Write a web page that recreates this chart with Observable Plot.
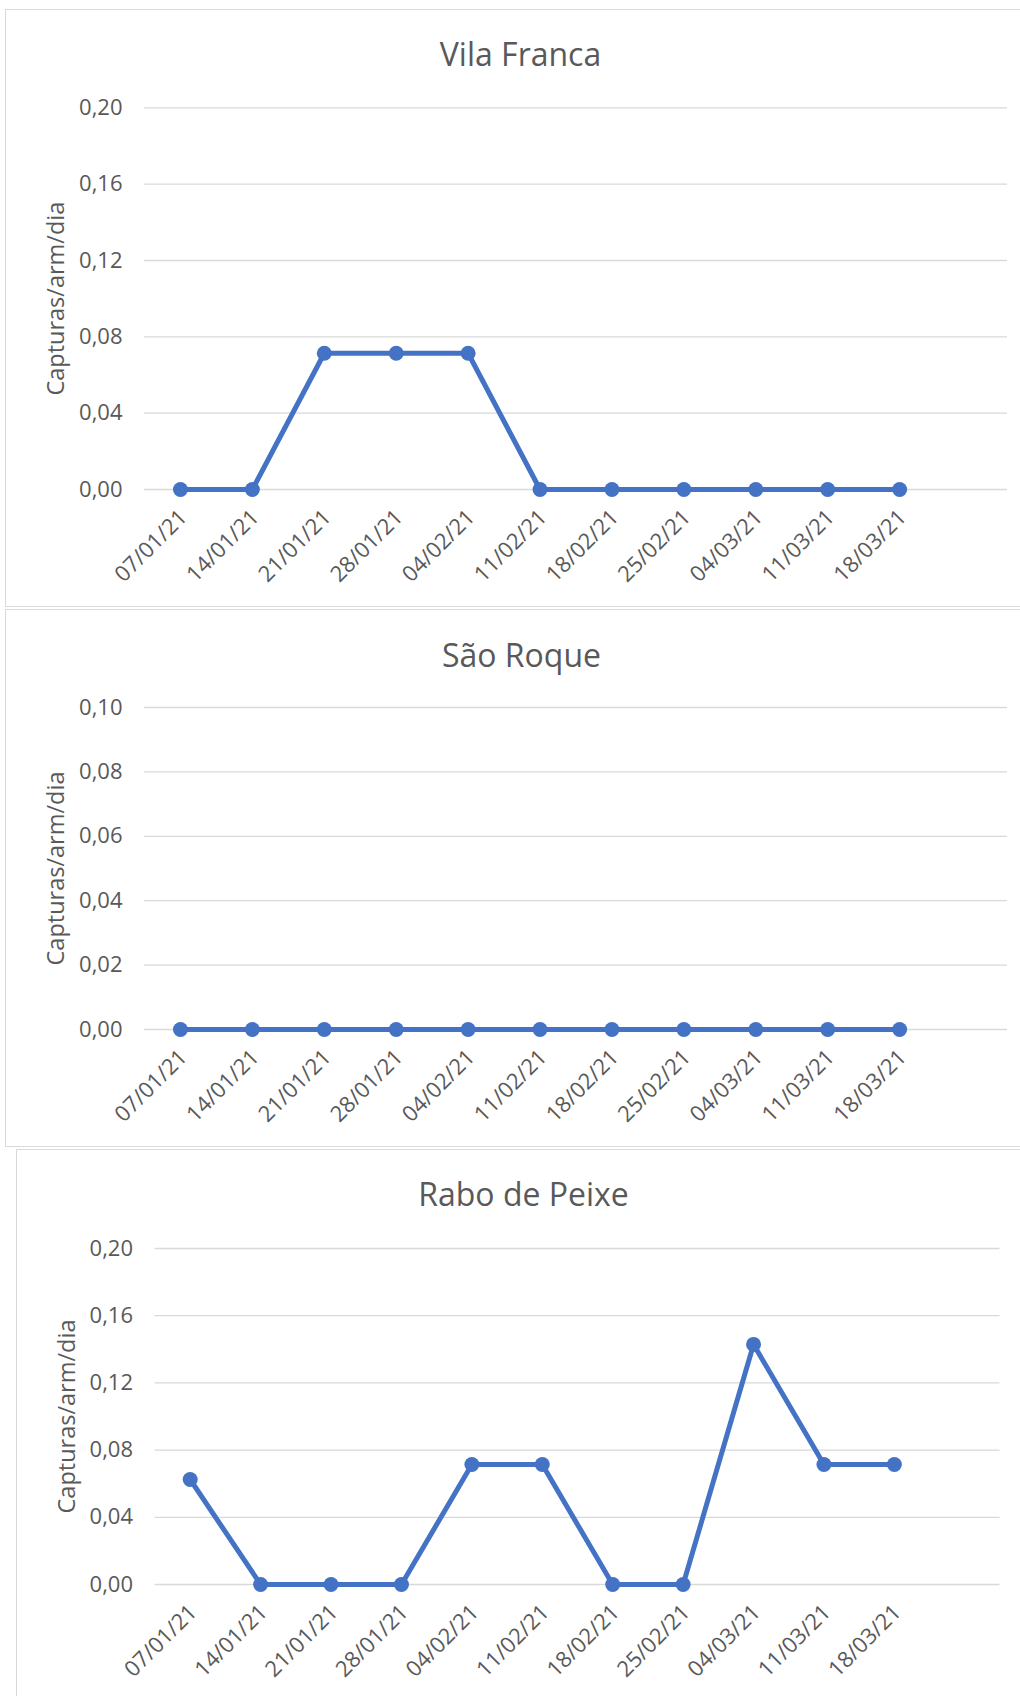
<!DOCTYPE html>
<html>
<head>
<meta charset="utf-8">
<script src="https://cdn.jsdelivr.net/npm/d3@7"></script>
<script src="https://cdn.jsdelivr.net/npm/@observablehq/plot@0.6"></script>
<style>
  html, body { margin: 0; padding: 0; background: #fff; }
  body { width: 1020px; height: 1696px; overflow: hidden; position: relative; font-family: "Open Sans", sans-serif; }
  .panel { position: absolute; }
  .panel svg { position: absolute; left: 0; top: 0; }
  .border { position: absolute; left: 0; top: 0; right: 0; bottom: 0; border: 1.5px solid #d9d9d9; box-sizing: border-box; pointer-events: none; }
</style>
</head>
<body>
<script>
// ---- data ----
const dates = ["07/01/21","14/01/21","21/01/21","28/01/21","04/02/21","11/02/21","18/02/21","25/02/21","04/03/21","11/03/21","18/03/21"];
const vilaFranca = [0, 0, 0.0714, 0.0714, 0.0714, 0, 0, 0, 0, 0, 0];
const saoRoque   = [0, 0, 0, 0, 0, 0, 0, 0, 0, 0, 0];
const raboDePeixe = [0.0625, 0, 0, 0, 0.0714, 0.0714, 0, 0, 0.1429, 0.0714, 0.0714];
const titles = ["Vila Franca", "São Roque", "Rabo de Peixe"];
const ticksA = [0, 0.04, 0.08, 0.12, 0.16, 0.20];
const ticksB = [0, 0.02, 0.04, 0.06, 0.08, 0.10];
const yLabel = "Capturas/arm/dia";

const BLUE = "#4472C4", GRAY = "#595959", GRID = "#d9d9d9";
const fmt = d => d3.format(".2f")(d).replace(".", ",");

function panel(cfg) {
  const {left, top, width, height, mL, mR, mT, mB, title, values, ticks, titleX, titleBase} = cfg;
  const data = dates.map((d, i) => ({date: d, value: values[i]}));
  const step = (width - mL - mR) / (dates.length + 1);
  const x0 = mL + step / 2, x1 = width - mR - 1.5 * step;
  const chart = Plot.plot({
    width, height,
    marginLeft: mL, marginRight: mR, marginTop: mT, marginBottom: mB,
    style: {fontFamily: "'Open Sans', sans-serif", background: "transparent", overflow: "visible"},
    x: {type: "point", domain: dates, range: [x0, x1], padding: 0, round: false, axis: null},
    y: {domain: [ticks[0], ticks[ticks.length - 1]], axis: null},
    marks: [
      Plot.ruleY(ticks, {stroke: GRID, strokeWidth: 1.3}),
      Plot.text(ticks, {y: d => d, text: fmt, frameAnchor: "left", dx: -22, textAnchor: "end", lineAnchor: "middle", fontSize: 22, fill: GRAY}),
      Plot.text([yLabel], {frameAnchor: "left", dx: -(mL - 51), rotate: -90, textAnchor: "middle", lineAnchor: "middle", fontSize: 23.5, fill: GRAY}),
      Plot.text(dates, {x: d => d, frameAnchor: "bottom", dx: 3, dy: 24, rotate: -45, textAnchor: "end", lineAnchor: "middle", fontSize: 22, fill: GRAY}),
      Plot.text([title], {frameAnchor: "top-left", dx: titleX - mL, dy: titleBase - 0.32 * 32 - mT, textAnchor: "middle", lineAnchor: "middle", fontSize: 32, fill: GRAY}),
      Plot.line(data, {x: "date", y: "value", stroke: BLUE, strokeWidth: 5, strokeLinejoin: "round"}),
      Plot.dot(data, {x: "date", y: "value", r: 7.5, fill: BLUE, stroke: "none"})
    ]
  });
  const div = document.createElement("div");
  div.className = "panel";
  div.style.left = left + "px"; div.style.top = top + "px";
  div.style.width = width + "px"; div.style.height = height + "px";
  div.appendChild(chart);
  const b = document.createElement("div");
  b.className = "border";
  div.appendChild(b);
  document.body.appendChild(div);
}

panel({left: 5, top: 9, width: 1030, height: 598, mL: 139, mR: 28, mT: 98.3, mB: 118,
       title: titles[0], values: vilaFranca, ticks: ticksA, titleX: 515, titleBase: 56});
panel({left: 5, top: 609, width: 1030, height: 538, mL: 139, mR: 28, mT: 98, mB: 118,
       title: titles[1], values: saoRoque, ticks: ticksB, titleX: 516, titleBase: 57});
panel({left: 15.5, top: 1149, width: 1030, height: 620, mL: 138.5, mR: 46.5, mT: 99, mB: 185,
       title: titles[2], values: raboDePeixe, ticks: ticksA, titleX: 507, titleBase: 56.6});
</script>
</body>
</html>
